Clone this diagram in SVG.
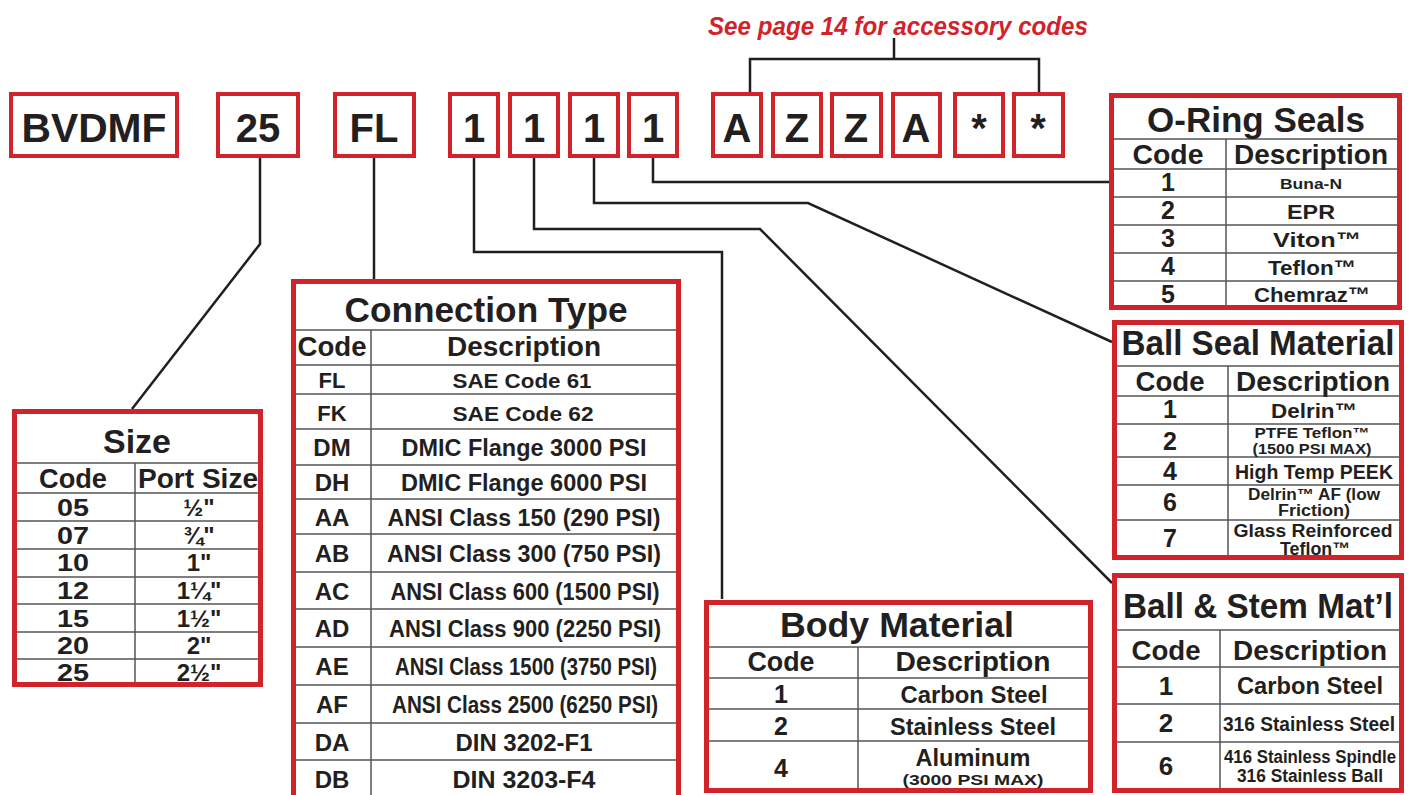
<svg xmlns="http://www.w3.org/2000/svg" width="1409" height="795" viewBox="0 0 1409 795">
<style>
.tb{fill:none;stroke:#d2232a;stroke-width:4}
.box{fill:none;stroke:#d2232a;stroke-width:5}
.g{stroke:#555;stroke-width:1.5;fill:none}
.c{fill:none;stroke:#231f20;stroke-width:2.5}
text{font-family:"Liberation Sans",Arial,sans-serif;font-weight:bold;fill:#231f20;text-anchor:middle}
.top{font-size:40px}
.ti{font-size:35px}
.hd{font-size:27px}
.red{fill:#d2232a;font-style:italic;font-size:25px}
</style>
<rect x="0" y="0" width="1409" height="795" fill="#fff"/>

<text class="red" x="898" y="35" textLength="380" lengthAdjust="spacingAndGlyphs">See page 14 for accessory codes</text>

<g id="code-boxes">
<g id="b-bvdmf"><rect class="tb" x="11" y="94" width="166" height="62"/><text class="top" x="94" y="142" textLength="145" lengthAdjust="spacingAndGlyphs">BVDMF</text></g>
<g id="b-25"><rect class="tb" x="218" y="94" width="80" height="62"/><text class="top" x="258" y="142">25</text></g>
<g id="b-fl"><rect class="tb" x="335" y="94" width="79" height="62"/><text class="top" x="374" y="142">FL</text></g>
<g id="b-1a"><rect class="tb" x="450" y="94" width="48" height="62"/><text class="top" x="474" y="142">1</text></g>
<g id="b-1b"><rect class="tb" x="510" y="94" width="48" height="62"/><text class="top" x="534" y="142">1</text></g>
<g id="b-1c"><rect class="tb" x="570" y="94" width="48" height="62"/><text class="top" x="594" y="142">1</text></g>
<g id="b-1d"><rect class="tb" x="629" y="94" width="48" height="62"/><text class="top" x="653" y="142">1</text></g>
<g id="b-a1"><rect class="tb" x="713" y="94" width="48" height="62"/><text class="top" x="737" y="142">A</text></g>
<g id="b-z1"><rect class="tb" x="773" y="94" width="48" height="62"/><text class="top" x="797" y="142">Z</text></g>
<g id="b-z2"><rect class="tb" x="832" y="94" width="49" height="62"/><text class="top" x="856" y="142">Z</text></g>
<g id="b-a2"><rect class="tb" x="893" y="94" width="47" height="62"/><text class="top" x="916" y="142">A</text></g>
<g id="b-s1"><rect class="tb" x="955" y="94" width="48" height="62"/><text class="top" x="979" y="142">*</text></g>
<g id="b-s2"><rect class="tb" x="1014" y="94" width="49" height="62"/><text class="top" x="1038" y="142">*</text></g>
</g>

<g id="connectors">
<path class="c" d="M750 92V59H1039V92M894 59V38"/>
<path class="c" d="M260 158V244L132 409"/>
<path class="c" d="M374 158V280"/>
<path class="c" d="M474 158V252H722V599"/>
<path class="c" d="M534 158V229H760L1112 583"/>
<path class="c" d="M594 158V203H808L1112 342"/>
<path class="c" d="M653 158V182H1110"/>
</g>

<g id="size">
<path class="g" d="M14 463H261M14 493H261M14 521H261M14 549H261M14 577H261M14 604H261M14 632H261M14 659H261M135 463V685"/>
<text class="ti" x="137" y="453" style="font-size:34px">Size</text>
<text class="hd" x="73" y="488" textLength="68" lengthAdjust="spacingAndGlyphs">Code</text>
<text class="hd" x="198" y="488" textLength="120" lengthAdjust="spacingAndGlyphs">Port Size</text>
<g style="font-size:24px">
<text x="73" y="516" textLength="32" lengthAdjust="spacingAndGlyphs">05</text><text x="199" y="516">½"</text>
<text x="73" y="544" textLength="32" lengthAdjust="spacingAndGlyphs">07</text><text x="199" y="544">¾"</text>
<text x="73" y="571" textLength="32" lengthAdjust="spacingAndGlyphs">10</text><text x="199" y="571">1"</text>
<text x="73" y="599" textLength="32" lengthAdjust="spacingAndGlyphs">12</text><text x="199" y="599">1¼"</text>
<text x="73" y="627" textLength="32" lengthAdjust="spacingAndGlyphs">15</text><text x="199" y="627">1½"</text>
<text x="73" y="654" textLength="32" lengthAdjust="spacingAndGlyphs">20</text><text x="199" y="654">2"</text>
<text x="73" y="681" textLength="32" lengthAdjust="spacingAndGlyphs">25</text><text x="199" y="681">2½"</text>
</g>
<rect class="box" x="14.5" y="411.5" width="246" height="273"/>
</g>

<g id="connection-type">
<path class="g" d="M293 330H679M293 365H679M293 394H679M293 429H679M293 465H679M293 499H679M293 534H679M293 572H679M293 609H679M293 647H679M293 685H679M293 723H679M293 760H679M371 330V800"/>
<text class="ti" x="486" y="322" textLength="283" lengthAdjust="spacingAndGlyphs">Connection Type</text>
<text class="hd" x="332" y="356" textLength="69" lengthAdjust="spacingAndGlyphs">Code</text>
<text class="hd" x="524" y="356" textLength="154" lengthAdjust="spacingAndGlyphs">Description</text>
<g style="font-size:22px">
<text x="332" y="388">FL</text><text x="522" y="388" style="font-size:21px" textLength="139" lengthAdjust="spacingAndGlyphs">SAE Code 61</text>
<text x="332" y="421">FK</text><text x="523" y="421" style="font-size:21px" textLength="141" lengthAdjust="spacingAndGlyphs">SAE Code 62</text>
</g>
<g style="font-size:24px">
<text x="332" y="456">DM</text><text x="524" y="456" style="font-size:23px" textLength="245" lengthAdjust="spacingAndGlyphs">DMIC Flange 3000 PSI</text>
<text x="332" y="491">DH</text><text x="524" y="491" style="font-size:23px" textLength="246" lengthAdjust="spacingAndGlyphs">DMIC Flange 6000 PSI</text>
<text x="332" y="526">AA</text><text x="524" y="526" style="font-size:23px" textLength="273" lengthAdjust="spacingAndGlyphs">ANSI Class 150 (290 PSI)</text>
<text x="332" y="562">AB</text><text x="524" y="562" style="font-size:23px" textLength="274" lengthAdjust="spacingAndGlyphs">ANSI Class 300 (750 PSI)</text>
<text x="332" y="600">AC</text><text x="525" y="600" style="font-size:23px" textLength="269" lengthAdjust="spacingAndGlyphs">ANSI Class 600 (1500 PSI)</text>
<text x="332" y="637">AD</text><text x="525" y="637" style="font-size:23px" textLength="272" lengthAdjust="spacingAndGlyphs">ANSI Class 900 (2250 PSI)</text>
<text x="332" y="675">AE</text><text x="526" y="675" style="font-size:23px" textLength="262" lengthAdjust="spacingAndGlyphs">ANSI Class 1500 (3750 PSI)</text>
<text x="332" y="713">AF</text><text x="525" y="713" style="font-size:23px" textLength="266" lengthAdjust="spacingAndGlyphs">ANSI Class 2500 (6250 PSI)</text>
<text x="332" y="751">DA</text><text x="524" y="751" style="font-size:23px" textLength="137" lengthAdjust="spacingAndGlyphs">DIN 3202-F1</text>
<text x="332" y="788">DB</text><text x="524" y="788" style="font-size:23px" textLength="143" lengthAdjust="spacingAndGlyphs">DIN 3203-F4</text>
</g>
<rect class="box" x="293.5" y="281.5" width="385" height="530"/>
</g>

<g id="body-material">
<path class="g" d="M706 647H1091M706 678H1091M706 709H1091M706 741H1091M858 647V791"/>
<text class="ti" x="897" y="637" textLength="234" lengthAdjust="spacingAndGlyphs">Body Material</text>
<text class="hd" x="781" y="671" textLength="67" lengthAdjust="spacingAndGlyphs">Code</text>
<text class="hd" x="973" y="671" textLength="155" lengthAdjust="spacingAndGlyphs">Description</text>
<g style="font-size:25px">
<text x="781" y="703">1</text><text x="974" y="703" style="font-size:24px" textLength="147" lengthAdjust="spacingAndGlyphs">Carbon Steel</text>
<text x="781" y="735">2</text><text x="973" y="735" style="font-size:24px" textLength="166" lengthAdjust="spacingAndGlyphs">Stainless Steel</text>
<text x="781" y="777">4</text><text x="973" y="766" style="font-size:23px" textLength="115" lengthAdjust="spacingAndGlyphs">Aluminum</text>
<text x="973" y="785" style="font-size:14px" textLength="141" lengthAdjust="spacingAndGlyphs">(3000 PSI MAX)</text>
</g>
<rect class="box" x="706.5" y="602.5" width="384" height="188"/>
</g>

<g id="o-ring-seals">
<path class="g" d="M1111 139H1400M1111 169H1400M1111 197H1400M1111 225H1400M1111 253H1400M1111 281H1400M1226 139V308"/>
<text class="ti" x="1256" y="132" textLength="218" lengthAdjust="spacingAndGlyphs">O-Ring Seals</text>
<text class="hd" x="1168" y="164" textLength="71" lengthAdjust="spacingAndGlyphs">Code</text>
<text class="hd" x="1311" y="164" textLength="154" lengthAdjust="spacingAndGlyphs">Description</text>
<g style="font-size:25px">
<text x="1168" y="191">1</text><text x="1311" y="189" style="font-size:14px" textLength="62" lengthAdjust="spacingAndGlyphs">Buna-N</text>
<text x="1168" y="219">2</text><text x="1311" y="219" style="font-size:21px" textLength="48" lengthAdjust="spacingAndGlyphs">EPR</text>
<text x="1168" y="247">3</text><text x="1317" y="247" style="font-size:21px" textLength="88" lengthAdjust="spacingAndGlyphs">Viton™</text>
<text x="1168" y="275">4</text><text x="1312" y="275" style="font-size:21px" textLength="88" lengthAdjust="spacingAndGlyphs">Teflon™</text>
<text x="1168" y="303">5</text><text x="1312" y="302" style="font-size:21px" textLength="116" lengthAdjust="spacingAndGlyphs">Chemraz™</text>
</g>
<rect class="box" x="1111.5" y="95.5" width="288" height="212"/>
</g>

<g id="ball-seal-material">
<path class="g" d="M1114 366H1402M1114 396H1402M1114 424H1402M1114 457H1402M1114 485H1402M1114 520H1402M1228 366V557"/>
<text class="ti" x="1258" y="355" textLength="273" lengthAdjust="spacingAndGlyphs">Ball Seal Material</text>
<text class="hd" x="1170" y="391" textLength="69" lengthAdjust="spacingAndGlyphs">Code</text>
<text class="hd" x="1313" y="391" textLength="154" lengthAdjust="spacingAndGlyphs">Description</text>
<g style="font-size:25px">
<text x="1170" y="418">1</text><text x="1314" y="418" style="font-size:21px" textLength="86" lengthAdjust="spacingAndGlyphs">Delrin™</text>
<text x="1170" y="450">2</text><text x="1312" y="438" style="font-size:15px" textLength="115" lengthAdjust="spacingAndGlyphs">PTFE Teflon™</text>
<text x="1312" y="454" style="font-size:15px" textLength="119" lengthAdjust="spacingAndGlyphs">(1500 PSI MAX)</text>
<text x="1170" y="480">4</text><text x="1314" y="479" style="font-size:21px" textLength="158" lengthAdjust="spacingAndGlyphs">High Temp PEEK</text>
<text x="1170" y="511">6</text><text x="1314" y="500" style="font-size:16px" textLength="132" lengthAdjust="spacingAndGlyphs">Delrin™ AF (low</text>
<text x="1314" y="516" style="font-size:16px" textLength="72" lengthAdjust="spacingAndGlyphs">Friction)</text>
<text x="1170" y="547">7</text><text x="1313" y="537" style="font-size:18px" textLength="159" lengthAdjust="spacingAndGlyphs">Glass Reinforced</text>
<text x="1315" y="555" style="font-size:18px" textLength="70" lengthAdjust="spacingAndGlyphs">Teflon™</text>
</g>
<rect class="box" x="1114.5" y="322.5" width="287" height="235"/>
</g>

<g id="ball-stem-material">
<path class="g" d="M1114 630H1402M1114 667H1402M1114 704H1402M1114 742H1402M1220 630V791"/>
<text class="ti" x="1258" y="618" textLength="270" lengthAdjust="spacingAndGlyphs">Ball &amp; Stem Mat’l</text>
<text class="hd" x="1166" y="660" textLength="69" lengthAdjust="spacingAndGlyphs">Code</text>
<text class="hd" x="1310" y="660" textLength="154" lengthAdjust="spacingAndGlyphs">Description</text>
<g style="font-size:26px">
<text x="1166" y="695">1</text><text x="1310" y="694" style="font-size:24px" textLength="146" lengthAdjust="spacingAndGlyphs">Carbon Steel</text>
<text x="1166" y="732">2</text><text x="1309" y="731" style="font-size:20px" textLength="172" lengthAdjust="spacingAndGlyphs">316 Stainless Steel</text>
<text x="1166" y="775">6</text><text x="1310" y="763" style="font-size:18px" textLength="172" lengthAdjust="spacingAndGlyphs">416 Stainless Spindle</text>
<text x="1310" y="782" style="font-size:18px" textLength="146" lengthAdjust="spacingAndGlyphs">316 Stainless Ball</text>
</g>
<rect class="box" x="1114.5" y="575.5" width="287" height="215"/>
</g>
</svg>
